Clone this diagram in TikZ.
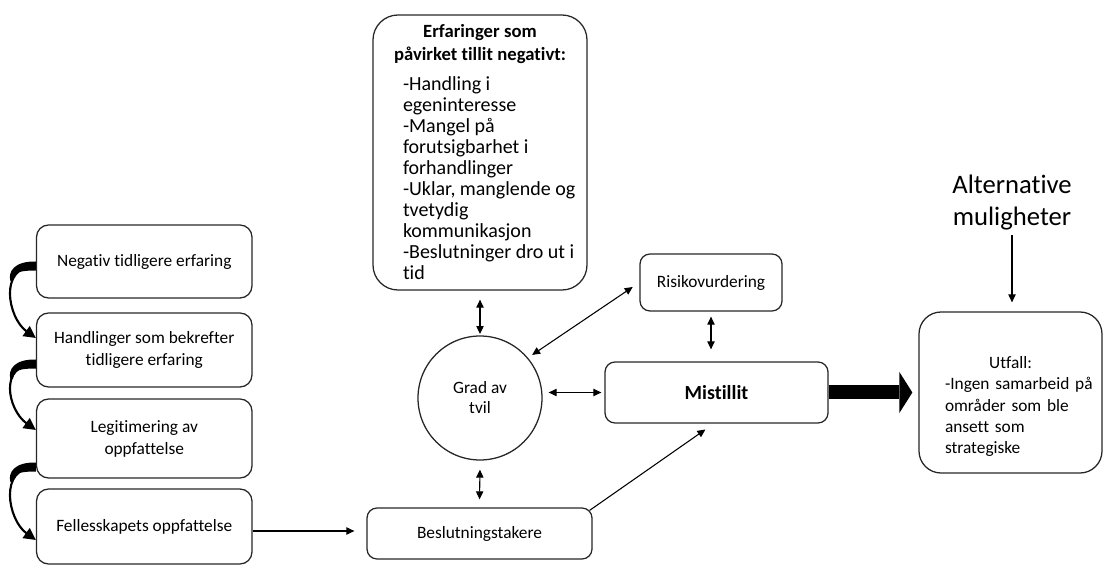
\documentclass[tikz,border=0pt]{standalone}
\usepackage{fontspec}
\setmainfont{Carlito}[Ligatures=NoCommon]
\usetikzlibrary{arrows.meta,calc}
\setlength{\parindent}{0pt}
\begin{document}
\begin{tikzpicture}[x=0.75pt,y=-0.75pt,
  boxline/.style={draw=black!85, line width=0.95pt},
  lbox/.style={boxline, rounded corners=9pt, minimum width=161.6pt, inner sep=0pt, align=center, font=\fontsize{13}{16.5}\selectfont},
  sbox/.style={boxline, rounded corners=7.5pt, inner sep=0pt, align=center, font=\fontsize{13}{16.5}\selectfont},
  topbox/.style={boxline, rounded corners=18.75pt, text width=160.5pt, inner xsep=0pt, inner ysep=0pt, minimum height=206.25pt},
  ubox/.style={boxline, rounded corners=16.5pt, minimum width=137.25pt, minimum height=120.75pt, inner sep=0pt},
  utext/.style={text width=137.25pt, inner sep=0pt, font=\fontsize{13}{16}\selectfont},
  arr/.style={line width=0.8pt, -{Triangle[length=6pt,width=5.5pt]}},
  darr/.style={line width=0.8pt, {Triangle[length=6pt,width=5.5pt]}-{Triangle[length=6pt,width=5.5pt]}},
  curv/.style={line width=1.6pt, -{Triangle[length=9pt,width=9pt]}}
]
\useasboundingbox (0,0) rectangle (1103,566);

% left column
\node[lbox, minimum height=54.75pt] (n1) at (144.25,261.5) {Negativ tidligere erfaring};
\node[lbox, minimum height=55.5pt] (n2) at (144.25,350) {Handlinger som bekrefter\\tidligere erfaring};
\node[lbox, minimum height=59.25pt] (n3) at (144.25,438.5) {Legitimering av\\oppfattelse};
\node[lbox, minimum height=56.25pt] (n4) at (144.25,526.5) {Fellesskapets oppfattelse};

% top box
\node[topbox] (top) at (480,152.5) {%
{\centering\bfseries\fontsize{14}{17.25}\selectfont Erfaringer som\\påvirket tillit negativt:\par}%
\vspace{6.75pt}%
{\raggedright\leftskip=22.5pt\fontsize{15}{15.75}\selectfont -Handling i\\egeninteresse\\-Mangel på\\forutsigbarhet i\\forhandlinger\\-Uklar, manglende og\\tvetydig\\kommunikasjon\\-Beslutninger dro ut i\\tid\par}};

% middle
\node[boxline, circle, minimum size=93pt, inner sep=0pt, align=center, font=\fontsize{13}{15}\selectfont] (c) at (480,398) {Grad av\\tvil};
\node[sbox, minimum width=106.5pt, minimum height=42.75pt] (r) at (711,282.5) {Risikovurdering};
\node[sbox, minimum width=167.25pt, minimum height=45.75pt, font=\bfseries\fontsize{15}{18}\selectfont] (m) at (716.5,392.5) {Mistillit};
\node[sbox, minimum width=168.75pt, minimum height=38.25pt] (b) at (479.5,533.5) {Beslutningstakere};

% right
\node[ubox] (u) at (1010.5,392.5) {};
\node[utext] (ut) at ($(u.center)+(0,14)$) {%
{\centering Utfall:\par}%
{\raggedright\leftskip=19.5pt -Ingen samarbeid på\\områder som ble\\ansett som\\strategiske\par}};
\node[inner sep=0pt, align=center, font=\fontsize{20}{24}\selectfont] (alt) at (1012,203) {Alternative\\muligheter};

% connectors
\draw[darr, shorten <=6.75pt, shorten >=1pt] (top.south) -- (c.north);
\draw[darr, shorten <=6.75pt, shorten >=6pt] (c.south) -- (b.north);
\draw[darr, shorten <=4.5pt, shorten >=2.25pt] (c.east |- m.west) -- (m.west);
\draw[darr, shorten <=3.75pt, shorten >=6pt] (c.40) -- (r.west);
\draw[darr, shorten <=3.75pt, shorten >=9pt] (r.south) -- (r.south |- m.north);
\draw[arr, shorten >=3.75pt] ($(b.north east)+(-3,3)$) -- ($(m.south)+(-7,3)$);
\coordinate (fo) at ($(n4.east)+(0,4.5)$);
\draw[arr, shorten >=9pt] (fo) -- (fo -| b.west);
\draw[line width=10.5pt, -{Triangle[length=9.75pt,width=30.75pt,line width=0pt]}, shorten >=4.5pt] (m.east) -- (m.east -| u.west);
\draw[arr, shorten <=3pt, shorten >=6.75pt] (alt.south) -- (alt.south |- u.north);

% curved arrows on the left
\coordinate (s1) at ($(n1.west)+(0,4.5)$);
\coordinate (e1) at ($(n2.west)+(0,-12)$);
\coordinate (s2) at ($(n2.west)+(0,14)$);
\coordinate (e2) at ($(n3.west)+(0,-8.5)$);
\coordinate (s3) at ($(n3.west)+(0,28.5)$);
\coordinate (e3) at ($(n4.west)+(0,13.5)$);
\foreach \s/\e in {s1/e1,s2/e2,s3/e3}{
  \draw[curv] (\s) .. controls +(-38,0) and +(-28,-20) .. (\e);
  \fill (\s) ++(0,-4.5) .. controls +(-22,-0.5) and +(-2.5,-9) .. ++(-25.5,19.5) -- ++(2.5,0) .. controls +(1,-9) and +(-16,0) .. ++(23,-10.5) -- cycle;
}
\end{tikzpicture}
\end{document}
